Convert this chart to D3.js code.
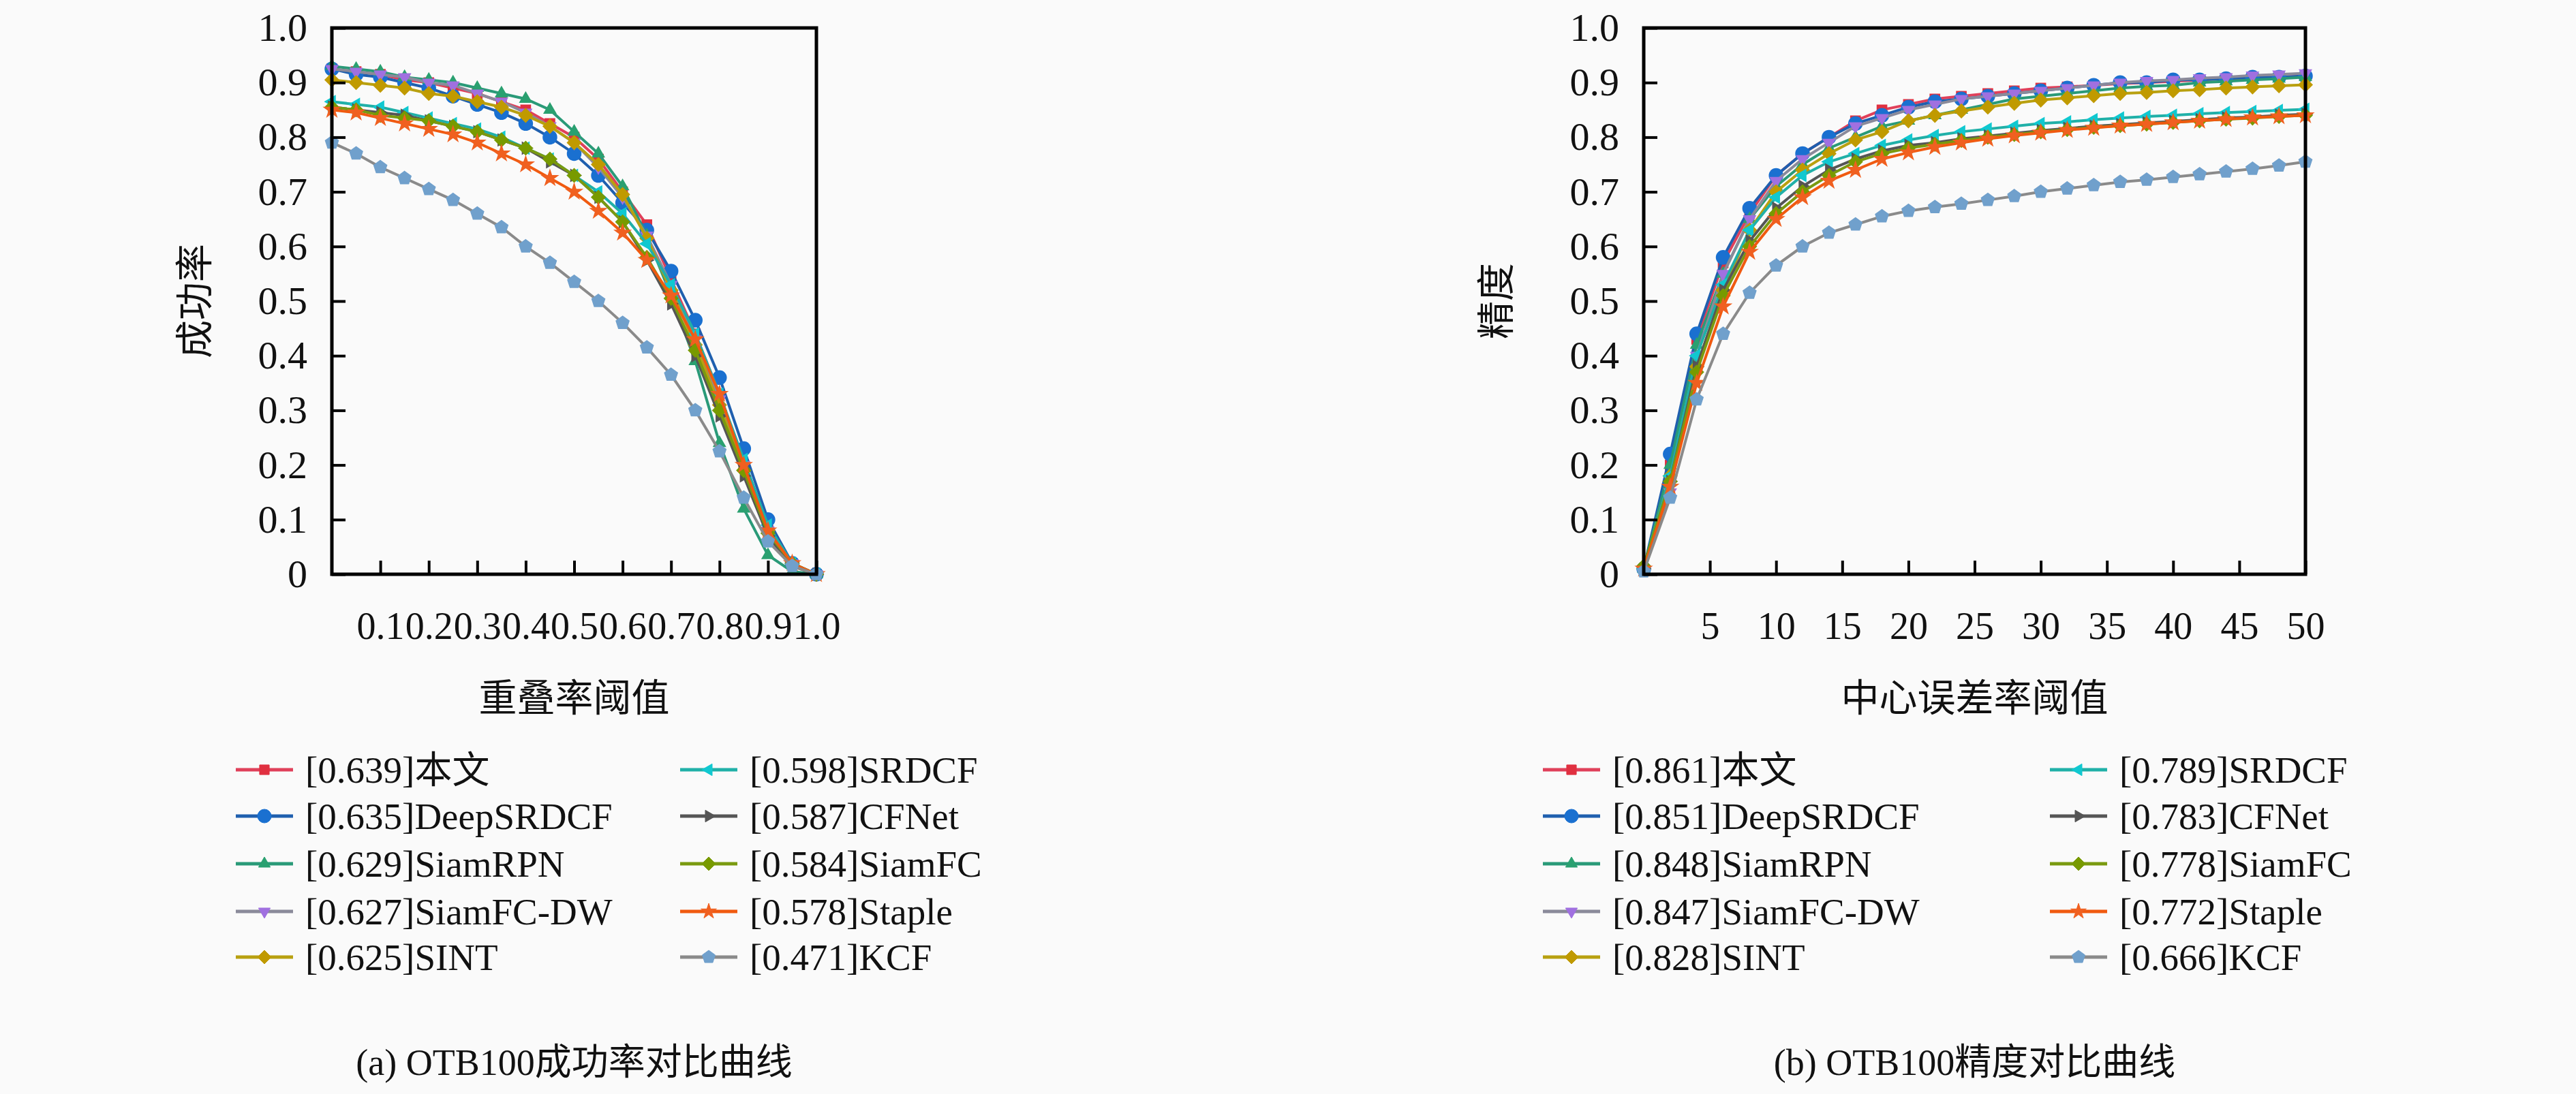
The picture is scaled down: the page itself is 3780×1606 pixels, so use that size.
<!DOCTYPE html>
<html>
<head>
<meta charset="utf-8">
<script src="https://cdn.jsdelivr.net/npm/d3@7"></script>
<style>
body { margin:0; background:#fafafa; }
text { font-family:"Liberation Serif","DejaVu Serif","Noto Sans CJK SC",serif; fill:#111; }
</style>
</head>
<body>
<svg id="chart" width="3780" height="1606"></svg>
<script>
var names = ["本文","DeepSRDCF","SiamRPN","SiamFC-DW","SINT","SRDCF","CFNet","SiamFC","Staple","KCF"];
var lineColors = ["#e0405a","#1f5fae","#2a9a78","#8a8a9a","#b8a010","#20b0a8","#555555","#7a9a10","#f05a10","#8a8a8a"];
var markColors = ["#e03040","#1a70d0","#2aa070","#a070e0","#c09a00","#10c8d0","#555555","#789a00","#f06020","#70a0cc"];
var markTypes  = ["square","circle","triUp","triDown","diamond","triLeft","triRight","diamond","star","pentagon"];

var succScores = ["0.639","0.635","0.629","0.627","0.625","0.598","0.587","0.584","0.578","0.471"];
var precScores = ["0.861","0.851","0.848","0.847","0.828","0.789","0.783","0.778","0.772","0.666"];

var succX = d3.range(0, 21).map(function(i) { return i * 0.05; });
var succ = [
 [0.925,0.92,0.915,0.905,0.9,0.89,0.88,0.865,0.85,0.825,0.8,0.76,0.70,0.64,0.54,0.44,0.33,0.2,0.08,0.02,0],
 [0.925,0.915,0.91,0.9,0.89,0.875,0.86,0.845,0.825,0.8,0.77,0.73,0.68,0.63,0.555,0.465,0.36,0.23,0.1,0.02,0],
 [0.93,0.925,0.92,0.91,0.905,0.9,0.89,0.88,0.87,0.85,0.81,0.77,0.71,0.62,0.51,0.39,0.24,0.12,0.035,0.005,0],
 [0.925,0.92,0.915,0.91,0.9,0.895,0.88,0.865,0.845,0.82,0.79,0.745,0.69,0.62,0.53,0.43,0.32,0.2,0.08,0.02,0],
 [0.905,0.9,0.895,0.89,0.88,0.875,0.865,0.855,0.84,0.82,0.79,0.75,0.695,0.615,0.52,0.42,0.31,0.19,0.08,0.02,0],
 [0.865,0.86,0.855,0.845,0.835,0.825,0.815,0.8,0.78,0.76,0.73,0.7,0.66,0.605,0.53,0.44,0.33,0.21,0.09,0.02,0],
 [0.855,0.85,0.845,0.84,0.83,0.82,0.81,0.795,0.78,0.755,0.73,0.69,0.645,0.575,0.495,0.4,0.29,0.18,0.07,0.015,0],
 [0.855,0.85,0.84,0.835,0.83,0.82,0.81,0.795,0.78,0.76,0.73,0.69,0.645,0.58,0.505,0.41,0.3,0.19,0.075,0.02,0],
 [0.85,0.845,0.835,0.825,0.815,0.805,0.79,0.77,0.75,0.725,0.7,0.665,0.625,0.575,0.51,0.43,0.33,0.2,0.08,0.02,0],
 [0.79,0.77,0.745,0.725,0.705,0.685,0.66,0.635,0.6,0.57,0.535,0.5,0.46,0.415,0.365,0.3,0.225,0.14,0.06,0.015,0]
];

var precX = d3.range(0, 26).map(function(i) { return i * 2; });
var prec = [
 [0.01,0.2,0.43,0.57,0.66,0.73,0.77,0.8,0.83,0.85,0.86,0.87,0.875,0.88,0.885,0.89,0.892,0.895,0.898,0.9,0.902,0.905,0.907,0.908,0.91,0.912],
 [0.01,0.22,0.44,0.58,0.67,0.73,0.77,0.8,0.825,0.84,0.855,0.865,0.87,0.875,0.88,0.885,0.89,0.895,0.9,0.9,0.905,0.905,0.907,0.91,0.91,0.912],
 [0.01,0.2,0.42,0.55,0.65,0.71,0.75,0.78,0.8,0.82,0.83,0.84,0.85,0.86,0.87,0.875,0.88,0.885,0.89,0.893,0.895,0.9,0.902,0.905,0.907,0.91],
 [0.01,0.15,0.4,0.55,0.65,0.72,0.76,0.79,0.82,0.835,0.85,0.86,0.87,0.875,0.88,0.885,0.89,0.895,0.9,0.903,0.905,0.908,0.91,0.913,0.915,0.917],
 [0.01,0.18,0.38,0.52,0.63,0.7,0.74,0.77,0.795,0.81,0.83,0.84,0.848,0.855,0.862,0.868,0.872,0.876,0.88,0.882,0.885,0.887,0.89,0.892,0.894,0.896],
 [0.01,0.18,0.4,0.53,0.63,0.69,0.73,0.755,0.77,0.785,0.795,0.803,0.81,0.815,0.82,0.825,0.828,0.832,0.835,0.838,0.84,0.843,0.845,0.847,0.849,0.851],
 [0.01,0.17,0.38,0.52,0.61,0.67,0.71,0.74,0.76,0.775,0.785,0.79,0.797,0.802,0.807,0.812,0.816,0.82,0.823,0.826,0.829,0.832,0.835,0.837,0.84,0.842],
 [0.015,0.17,0.37,0.51,0.6,0.66,0.7,0.73,0.755,0.77,0.78,0.787,0.794,0.8,0.805,0.81,0.814,0.818,0.821,0.824,0.827,0.83,0.833,0.835,0.838,0.84],
 [0.01,0.16,0.35,0.49,0.59,0.65,0.69,0.72,0.74,0.76,0.772,0.782,0.79,0.797,0.803,0.808,0.813,0.817,0.821,0.824,0.827,0.83,0.833,0.836,0.838,0.84],
 [0.005,0.14,0.32,0.44,0.515,0.565,0.6,0.625,0.64,0.655,0.665,0.672,0.678,0.685,0.692,0.7,0.706,0.712,0.718,0.722,0.727,0.732,0.737,0.742,0.748,0.755]
];

var yTicks = [0,0.1,0.2,0.3,0.4,0.5,0.6,0.7,0.8,0.9,1.0];
var succTicks = [0.1,0.2,0.3,0.4,0.5,0.6,0.7,0.8,0.9,1.0];
var precTicks = [5,10,15,20,25,30,35,40,45,50];

var svg = d3.select("#chart");

// marker path centred at 0,0
function marker(type, r) {
  function poly(n, rot) {
    var p = [];
    for (var i = 0; i < n; i++) {
      var a = rot + i * 2 * Math.PI / n;
      p.push([r * Math.cos(a), r * Math.sin(a)]);
    }
    return "M" + p.join("L") + "Z";
  }
  if (type == "square") return poly(4, Math.PI / 4);
  if (type == "circle") return d3.symbol(d3.symbolCircle, Math.PI * r * r)();
  if (type == "triUp") return poly(3, -Math.PI / 2);
  if (type == "triDown") return poly(3, Math.PI / 2);
  if (type == "triLeft") return poly(3, Math.PI);
  if (type == "triRight") return poly(3, 0);
  if (type == "diamond") return poly(4, 0);
  if (type == "pentagon") return poly(5, -Math.PI / 2);
  if (type == "star") return d3.symbol(d3.symbolStar, r * r * 1.6)();
}

function panel(o) {
  var g = svg.append("g");
  var x = d3.scaleLinear().domain(o.xDomain).range([o.left, o.right]);
  var y = d3.scaleLinear().domain([0, 1]).range([o.bottom, o.top]);

  var line = d3.line().x(function(d) { return x(d[0]); }).y(function(d) { return y(d[1]); });

  o.series.forEach(function(vals, k) {
    var pts = o.xs.map(function(xv, i) { return [xv, vals[i]]; });
    g.append("path").attr("d", line(pts)).attr("fill", "none")
      .attr("stroke", lineColors[k]).attr("stroke-width", 4);
    g.selectAll(null).data(pts).enter().append("path")
      .attr("d", marker(markTypes[k], 10))
      .attr("transform", function(d) { return "translate(" + x(d[0]) + "," + y(d[1]) + ")"; })
      .attr("fill", markColors[k]).attr("stroke", markColors[k]).attr("stroke-width", 1.5);
  });

  // frame
  g.append("rect").attr("x", o.left).attr("y", o.top)
    .attr("width", o.right - o.left).attr("height", o.bottom - o.top)
    .attr("fill", "none").attr("stroke", "#000").attr("stroke-width", 5);

  var xa = g.append("g").attr("transform", "translate(0," + o.bottom + ")")
    .call(d3.axisBottom(x).tickValues(o.xTicks).tickSize(-20).tickPadding(0).tickFormat(o.xFmt));
  xa.select(".domain").remove();
  xa.selectAll("line").attr("stroke-width", 4);
  xa.selectAll("text").attr("y", 75).attr("dy", "0.35em").style("font-size", "56px");

  var ya = g.append("g").attr("transform", "translate(" + o.left + ",0)")
    .call(d3.axisLeft(y).tickValues(yTicks).tickSize(-20).tickPadding(36)
      .tickFormat(function(d) { return d == 0 ? "0" : d3.format(".1f")(d); }));
  ya.select(".domain").remove();
  ya.selectAll("line").attr("stroke-width", 4);
  ya.selectAll("text").style("font-size", "58px");

  var cx = (o.left + o.right) / 2;
  g.append("text").attr("x", cx).attr("y", 1024).attr("dy", "0.35em")
    .attr("text-anchor", "middle").style("font-size", "56px").text(o.xLabel);
  g.append("text").attr("transform", "translate(" + o.yLabelX + "," + ((o.top + o.bottom) / 2) + ") rotate(-90)")
    .attr("dy", "0.35em").attr("text-anchor", "middle").style("font-size", "56px").text(o.yLabel);
  g.append("text").attr("x", cx).attr("y", 1559).attr("dy", "0.35em")
    .attr("text-anchor", "middle").style("font-size", "54px").text(o.caption);

  // legend
  var rowY = [1130, 1198, 1268, 1338, 1405];
  names.forEach(function(n, k) {
    var col = k < 5 ? 0 : 1, row = k % 5;
    var mx = o.legX[col], ly = rowY[row];
    g.append("line").attr("x1", mx - 42).attr("x2", mx + 42).attr("y1", ly).attr("y2", ly)
      .attr("stroke", lineColors[k]).attr("stroke-width", 5);
    g.append("path").attr("d", marker(markTypes[k], 10))
      .attr("transform", "translate(" + mx + "," + ly + ")")
      .attr("fill", markColors[k]).attr("stroke", markColors[k]);
    g.append("text").attr("x", mx + 60).attr("y", ly).attr("dy", "0.35em")
      .style("font-size", "55px").text("[" + o.scores[k] + "]" + n);
  });
}

panel({
  left: 487, right: 1198, top: 41, bottom: 843,
  xDomain: [0, 1], xs: succX, series: succ, xTicks: succTicks,
  xFmt: d3.format(".1f"), xLabel: "重叠率阈值", yLabel: "成功率", yLabelX: 285,
  caption: "(a) OTB100成功率对比曲线", scores: succScores, legX: [388, 1040]
});
panel({
  left: 2412, right: 3383, top: 41, bottom: 843,
  xDomain: [0, 50], xs: precX, series: prec, xTicks: precTicks,
  xFmt: d3.format("d"), xLabel: "中心误差率阈值", yLabel: "精度", yLabelX: 2195,
  caption: "(b) OTB100精度对比曲线", scores: precScores, legX: [2306, 3050]
});
</script>
</body>
</html>
